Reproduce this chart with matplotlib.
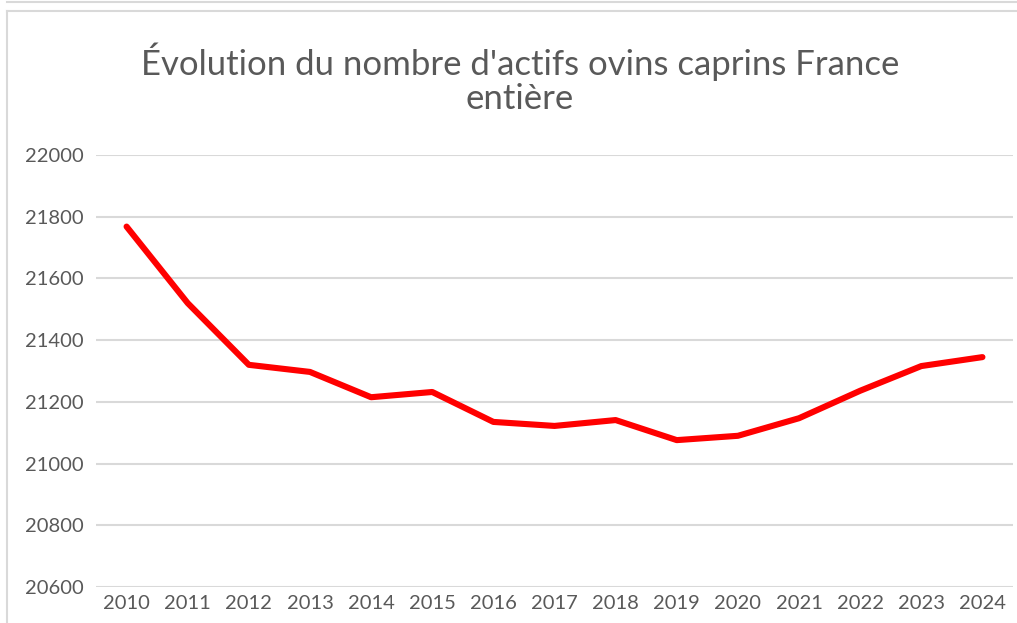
import matplotlib
matplotlib.use('agg')

import matplotlib.pyplot as plt
from matplotlib.lines import Line2D

# data
years = ['2010', '2011', '2012', '2013', '2014', '2015', '2016', '2017',
         '2018', '2019', '2020', '2021', '2022', '2023', '2024']
actifs = [21768, 21520, 21320, 21297, 21215, 21232, 21135, 21122,
          21141, 21076, 21090, 21147, 21236, 21316, 21345]
y_ticks = [20600, 20800, 21000, 21200, 21400, 21600, 21800, 22000]

title_lines = ["Évolution du nombre d'actifs ovins caprins France", "entière"]

W, H = 1017, 623
text_col = '#595959'
grid_col = '#D9D9D9'

plt.rcParams['font.family'] = ['Lato', 'DejaVu Sans']

fig = plt.figure(figsize=(W / 100, H / 100), dpi=100)
fig.patch.set_facecolor('white')

# outer frame lines (Excel chart border)
fig.add_artist(Line2D([7 / W, 1], [1 - 1.5 / H, 1 - 1.5 / H], color=grid_col, lw=1.5))
fig.add_artist(Line2D([7 / W, 1], [1 - 11 / H, 1 - 11 / H], color=grid_col, lw=1.5))
fig.add_artist(Line2D([7 / W, 7 / W], [0, 1 - 11 / H], color=grid_col, lw=1.5))

ax = fig.add_axes([96 / W, 1 - 587 / H, (1013 - 96) / W, (587 - 155) / H])
x = list(range(len(years)))
ax.plot(x, actifs, color='#FF0000', lw=4.4, solid_capstyle='round',
        solid_joinstyle='round', zorder=3)

ax.set_xlim(-0.5, len(years) - 0.5)
ax.set_ylim(y_ticks[0], y_ticks[-1])
ax.set_yticks(y_ticks)
ax.set_yticklabels([str(v) for v in y_ticks])
ax.set_xticks(x)
ax.set_xticklabels(years)
ax.grid(axis='y', color=grid_col, lw=1.5)
ax.set_axisbelow(True)
for s in ax.spines.values():
    s.set_visible(False)
ax.tick_params(axis='both', length=0, labelsize=14.5, colors=text_col)
ax.tick_params(axis='y', pad=9)
ax.tick_params(axis='x', pad=6)

# title, two centred lines placed on their baselines
for line, base in zip(title_lines, [75, 109]):
    fig.text(520 / W, 1 - base / H, line, ha='center', va='baseline',
             fontsize=25, color=text_col)

fig.savefig('out.png', dpi=100)
